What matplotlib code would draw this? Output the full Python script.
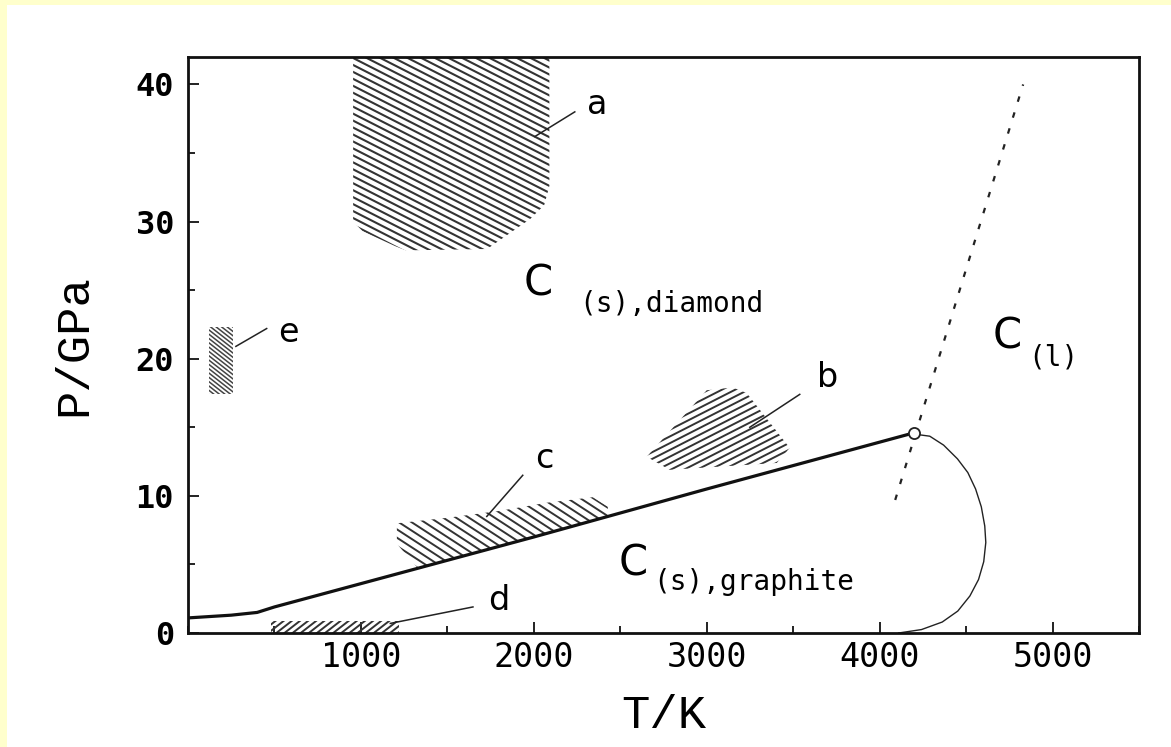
import numpy as np
import matplotlib
matplotlib.use('Agg')
import matplotlib.pyplot as plt
from matplotlib.patches import Polygon, Rectangle
from matplotlib.collections import LineCollection
from matplotlib.ticker import MultipleLocator

# graphite / diamond boundary (T in K, P in GPa)
gd_T = [0, 250, 400, 500, 1000, 2000, 3000, 4200]
gd_P = [1.1, 1.3, 1.5, 1.9, 3.6, 7.0, 10.5, 14.6]

# graphite melting curve, triple point down to ~0 GPa
melt_T = [4202, 4290, 4370, 4450, 4510, 4555, 4588, 4608, 4614, 4602, 4572,
          4522, 4452, 4362, 4242, 4110]
melt_P = [14.5, 14.35, 13.7, 12.7, 11.7, 10.5, 9.2, 7.8, 6.6, 5.2, 3.9,
          2.7, 1.6, 0.8, 0.25, 0.0]

# dotted diamond melting line
dm_T = [4090, 4470, 4830]
dm_P = [9.7, 25.3, 40.0]

triple = (4200, 14.6)

# hatched regions (outline T, outline P)
a_T = [955, 2090, 2090, 2060, 1980, 1730, 1260, 1200, 1010, 955]
a_P = [42.0, 42.0, 32.6, 31.2, 30.2, 28.0, 27.9, 28.2, 29.3, 30.0]
b_T = [2653, 3000, 3150, 3231, 3480, 3405, 2786]
b_P = [12.85, 17.7, 17.9, 17.5, 13.5, 12.4, 11.9]
# c: upper edge, lower edge lies on the boundary line
c_top_T = [2428, 2341, 2075, 1800, 1500, 1208, 1208]
c_top_P = [9.2, 9.9, 9.5, 8.9, 8.4, 8.0, 6.5]
c_low_T = [1330, 1600, 2000, 2428]
d_T = [480, 1220, 1220, 480]
d_P = [0.0, 0.0, 0.85, 0.85]
e_T = [120, 260, 260, 120]
e_P = [17.4, 17.4, 22.3, 22.3]

# labels: text, position, leader start, leader end
letters = ['a', 'b', 'c', 'd', 'e']
letter_pos = [(2364, 38.5), (3700, 18.6), (2060, 12.7), (1795, 2.4), (580, 21.9)]
leader_from = [(2237, 38.0), (3538, 17.4), (1936, 11.5), (1648, 1.9), (455, 22.2)]
leader_to = [(2006, 36.2), (3249, 15.0), (1728, 8.5), (1170, 0.7), (277, 20.9)]

fig = plt.figure(figsize=(11.71, 7.47), dpi=100)
fig.patch.set_facecolor('white')
fig.patches.append(Rectangle((0, 1 - 5 / 747), 1, 5 / 747, transform=fig.transFigure,
                             facecolor='#FFFFCC', edgecolor='none'))
fig.patches.append(Rectangle((0, 0), 7 / 1171, 1, transform=fig.transFigure,
                             facecolor='#FFFFCC', edgecolor='none'))

ax = fig.add_axes([188 / 1171, 114 / 747, 951 / 1171, 576 / 747])
ax.set_xlim(0, 5500)
ax.set_ylim(0, 42)

for s in ['top', 'right', 'bottom', 'left']:
    ax.spines[s].set_linewidth(2.0)
    ax.spines[s].set_color('#111111')


def hatch(T, P, angle, spacing, lw=1.4, color='#333333'):
    pts = np.column_stack([T, P])
    poly = Polygon(pts, closed=True, fill=False, edgecolor='none')
    ax.add_patch(poly)
    pix = ax.transData.transform(pts)
    lo, hi = pix.min(0), pix.max(0)
    ctr = (lo + hi) / 2
    r = np.hypot(*(hi - lo))
    ang = np.radians(angle)
    d = np.array([np.cos(ang), np.sin(ang)])
    n = np.array([-np.sin(ang), np.cos(ang)])
    inv = ax.transData.inverted()
    segs = []
    for off in np.arange(-r, r, spacing):
        c = ctr + off * n
        segs.append(inv.transform(np.array([c - r * d, c + r * d])))
    lc = LineCollection(segs, colors=color, linewidths=lw)
    ax.add_collection(lc)
    lc.set_clip_path(poly)


c_T = c_top_T + c_low_T
c_P = c_top_P + list(np.interp(c_low_T, gd_T, gd_P))

hatch(a_T, a_P, -27, 6.2, lw=1.5)
hatch(b_T, b_P, 27, 6.0)
hatch(c_T, c_P, -33, 7.0)
hatch(d_T, d_P, 38, 5.0)
hatch(e_T, e_P, -38, 3.4, lw=1.1, color='#444444')

ax.plot(gd_T, gd_P, color='#111111', lw=2.3, solid_capstyle='butt')
ax.plot(melt_T, melt_P, color='#222222', lw=1.0)
ax.plot(dm_T, dm_P, color='#222222', lw=1.6, linestyle=(0, (2.5, 5)))
ax.plot(*triple, 'o', ms=8, mfc='white', mec='#222222', mew=1.3)

for t, p, f, g in zip(letters, letter_pos, leader_from, leader_to):
    ax.text(p[0], p[1], t, fontsize=24, family='DejaVu Sans', ha='center', va='center')
    ax.plot([f[0], g[0]], [f[1], g[1]], color='#222222', lw=1.1)

# phase field labels
ax.text(1940, 25.5, 'C', fontsize=30, family='DejaVu Sans', ha='left', va='center')
ax.text(2260, 24.0, '(s),diamond', fontsize=20, family='DejaVu Sans Mono', ha='left', va='center')
ax.text(2490, 5.1, 'C', fontsize=30, family='DejaVu Sans', ha='left', va='center')
ax.text(2690, 3.7, '(s),graphite', fontsize=20, family='DejaVu Sans Mono', ha='left', va='center')
ax.text(4653, 21.6, 'C', fontsize=30, family='DejaVu Sans', ha='left', va='center')
ax.text(4860, 20.1, '(l)', fontsize=20, family='DejaVu Sans Mono', ha='left', va='center')

ax.set_xticks([1000, 2000, 3000, 4000, 5000])
ax.xaxis.set_minor_locator(MultipleLocator(500))
ax.set_yticks([0, 10, 20, 30, 40])
ax.yaxis.set_minor_locator(MultipleLocator(5))
ax.tick_params(which='both', direction='in', color='#111111', width=1.3)
ax.tick_params(which='major', length=8)
ax.tick_params(which='minor', length=5)
ax.tick_params(axis='x', pad=6)
ax.tick_params(axis='y', pad=10)
for lab in ax.get_xticklabels():
    lab.set_family('DejaVu Sans Mono')
    lab.set_fontsize(24)
for lab in ax.get_yticklabels():
    lab.set_family('DejaVu Sans Mono')
    lab.set_fontsize(23)
    lab.set_fontweight('bold')

ax.set_xlabel('T/K', family=['Liberation Mono', 'DejaVu Sans Mono'], fontsize=34, labelpad=14)
ax.set_ylabel('P/GPa', family=['Liberation Mono', 'DejaVu Sans Mono'], fontsize=34, labelpad=28)

fig.savefig('out.png', dpi=100)
